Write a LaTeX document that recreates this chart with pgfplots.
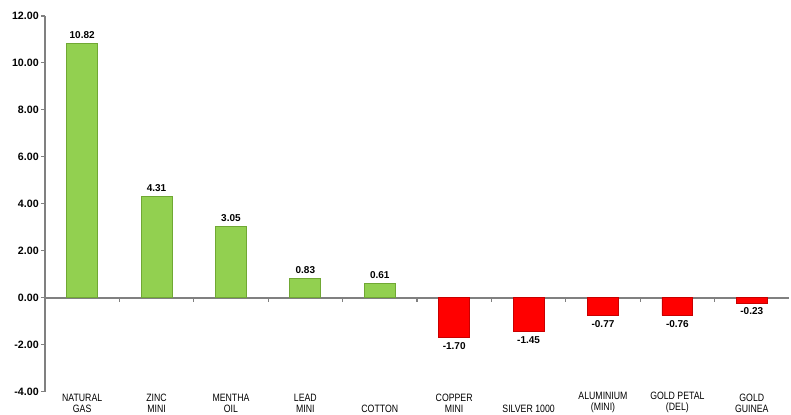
\documentclass[border=0pt]{standalone}
\usepackage{fontspec}
\setmainfont{Liberation Sans}
\newfontfamily\narrowfont[FakeStretch=0.82]{Liberation Sans}
\usepackage{pgfplots}
\pgfplotsset{compat=1.18}

\definecolor{bargreen}{RGB}{146,208,80}
\definecolor{greenedge}{RGB}{112,168,52}
\definecolor{barred}{RGB}{255,0,0}
\definecolor{rededge}{RGB}{200,0,0}
\definecolor{axisgray}{RGB}{128,128,128}

\begin{document}
\begin{tikzpicture}
\useasboundingbox (-33.75pt,-17.25pt) rectangle (560.25pt,294pt);
\begin{axis}[
  scale only axis,
  width=558.75pt, height=282pt,
  xmin=-0.5, xmax=9.5,
  ymin=-4, ymax=12,
  ytick={-4,-2,...,12},
  xtick={0,...,9},
  xticklabels={NATURAL\\GAS, ZINC\\MINI, MENTHA\\OIL, LEAD\\MINI, COTTON,
               COPPER\\MINI, SILVER 1000, ALUMINIUM\\(MINI), GOLD PETAL\\(DEL), GOLD\\GUINEA},
  axis y line=left,
  axis x line=bottom,
  axis line style={-},
  x axis line style={draw=none},
  y axis line style={axisgray, line width=1.2pt},
  xtick style={draw=none},
  ytick style={axisgray, line width=0.8pt},
  tick align=outside,
  major tick length=3pt,
  xticklabel style={anchor=south, yshift=-13pt, align=center, inner sep=0pt,
    font=\narrowfont\fontsize{8}{8.2}\selectfont},
  yticklabel style={inner sep=1.5pt, font=\bfseries\fontsize{8}{9}\selectfont},
  /pgf/number format/fixed,
  /pgf/number format/fixed zerofill,
  /pgf/number format/precision=2,
  /pgf/number format/assume math mode=true,
  extra y ticks={0},
  extra y tick labels={},
  extra y tick style={grid=major, major grid style={axisgray, line width=1.5pt}},
  ybar,
  bar width=23.25pt,
  bar shift=0pt,
  clip=false,
]
\addplot[fill=bargreen, draw=greenedge, line width=0.6pt,
  nodes near coords,
  every node near coord/.append style={anchor=south, font=\bfseries\fontsize{7.5}{9}\selectfont}]
  coordinates {(0,10.82) (1,4.31) (2,3.05) (3,0.83) (4,0.61)};
\addplot[fill=barred, draw=rededge, line width=0.6pt,
  nodes near coords,
  every node near coord/.append style={anchor=north, font=\bfseries\fontsize{7.5}{9}\selectfont}]
  coordinates {(5,-1.70) (6,-1.45) (7,-0.77) (8,-0.76) (9,-0.23)};
\pgfplotsinvokeforeach{0.5,1.5,2.5,3.5,4.5,5.5,6.5,7.5,8.5}{
  \draw[axisgray, line width=0.8pt] (axis cs:#1,0) -- ([yshift=-3pt]axis cs:#1,0);
}
\end{axis}
\end{tikzpicture}
\end{document}
